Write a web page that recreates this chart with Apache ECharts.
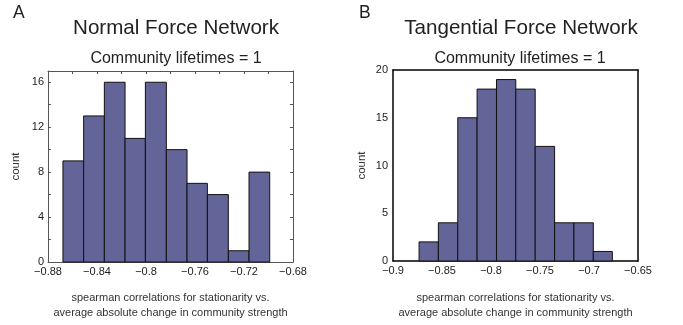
<!DOCTYPE html>
<html>

<head>
	<meta charset="UTF-8">
	<title></title>
	<style>
		html, body {
			margin: 0;
			padding: 0;
			background: #fff;
		}

		#chart {
			width: 683px;
			height: 325px;
		}
	</style>
	<script src="https://cdn.jsdelivr.net/npm/echarts@6/dist/echarts.min.js"></script>
</head>

<body>
	<div id="chart"></div>
	<script>
		// bin edges + counts
		var normalEdges = [-0.8678, -0.8509, -0.8340, -0.8171, -0.8005, -0.7834, -0.7665, -0.7499, -0.7328, -0.7159, -0.6990];
		var normalCounts = [9, 13, 16, 11, 16, 10, 7, 6, 1, 8];

		var tangEdges = [-0.8734, -0.8537, -0.8339, -0.8142, -0.7944, -0.7747, -0.7549, -0.7351, -0.7154, -0.6956, -0.6762];
		var tangCounts = [2, 4, 15, 18, 19, 18, 12, 4, 4, 1];

		var xName = 'spearman correlations for stationarity vs.\naverage absolute change in community strength';
		var barColor = '#636599';
		var font = 'Liberation Sans, Arial, sans-serif';

		function bins(edges, counts) {
			var out = [];
			for (var i = 0; i < counts.length; i++) {
				out.push([edges[i], edges[i + 1], counts[i]]);
			}
			return out;
		}

		function minus(s) {
			return String(s).replace('-', '\u2212');
		}

		function renderBin(params, api) {
			var p0 = api.coord([api.value(0), api.value(2)]);
			var p1 = api.coord([api.value(1), 0]);
			return {
				type: 'rect',
				shape: { x: p0[0], y: p0[1], width: p1[0] - p0[0], height: p1[1] - p0[1] },
				style: { fill: barColor, stroke: '#111', lineWidth: 1 }
			};
		}

		var labelStyle = { color: '#222', fontSize: 11, fontFamily: font };
		var leftLine = { show: true, onZero: false, lineStyle: { color: '#555', width: 1 } };
		var rightLine = { show: true, onZero: false, lineStyle: { color: '#000', width: 1.5 } };
		var leftTick = { show: true, inside: true, length: 3, lineStyle: { color: '#555' } };
		var titleStyle = function (size) {
			return { fontSize: size, fontWeight: 'normal', color: '#222', fontFamily: font };
		};

		var mychart = echarts.init(document.getElementById('chart'));
		mychart.setOption({
			animation: false,
			title: [
				{ text: 'A', left: 8, top: -1, textStyle: titleStyle(17.5) },
				{ text: 'B', left: 354, top: -1, textStyle: titleStyle(17.5) },
				{ text: 'Normal Force Network', left: 171, top: 13, textAlign: 'center', textStyle: titleStyle(20.6) },
				{ text: 'Tangential Force Network', left: 516, top: 13, textAlign: 'center', textStyle: titleStyle(20.6) },
				{ text: 'Community lifetimes = 1', left: 171, top: 46, textAlign: 'center', textStyle: titleStyle(16) },
				{ text: 'Community lifetimes = 1', left: 515, top: 46, textAlign: 'center', textStyle: titleStyle(16) }
			],
			grid: [
				{ left: 48, top: 71, width: 245, height: 193 },
				{ left: 393, top: 70, width: 245, height: 193 }
			],
			xAxis: [
				{
					gridIndex: 0, type: 'value', min: -0.88, max: -0.68, interval: 0.02, position: 'bottom',
					axisLine: leftLine, axisTick: leftTick,
					splitLine: { show: false },
					axisLabel: Object.assign({}, labelStyle, {
						margin: 4,
						formatter: function (v) {
							var k = Math.round(v * 100);
							return k % 4 === 0 ? minus(v) : '';
						}
					}),
					name: xName, nameLocation: 'middle', nameGap: 28,
					nameTextStyle: { fontSize: 11, color: '#333', lineHeight: 15, fontFamily: font }
				},
				{
					gridIndex: 0, type: 'value', min: -0.88, max: -0.68, interval: 0.02, position: 'top',
					axisLine: leftLine, axisTick: leftTick,
					splitLine: { show: false }, axisLabel: { show: false }
				},
				{
					gridIndex: 1, type: 'value', min: -0.9, max: -0.65, interval: 0.05, position: 'bottom',
					axisLine: rightLine, axisTick: { show: false },
					splitLine: { show: false },
					axisLabel: Object.assign({}, labelStyle, {
						margin: 4,
						formatter: function (v) { return minus(v); }
					}),
					name: xName, nameLocation: 'middle', nameGap: 29,
					nameTextStyle: { fontSize: 11, color: '#333', lineHeight: 15, fontFamily: font }
				},
				{
					gridIndex: 1, type: 'value', min: -0.9, max: -0.65, position: 'top',
					axisLine: rightLine, axisTick: { show: false },
					splitLine: { show: false }, axisLabel: { show: false }
				}
			],
			yAxis: [
				{
					gridIndex: 0, type: 'value', min: 0, max: 17, interval: 2, position: 'left',
					axisLine: leftLine, axisTick: leftTick,
					splitLine: { show: false },
					axisLabel: Object.assign({}, labelStyle, {
						margin: 4,
						formatter: function (v) { return v % 4 === 0 ? String(v) : ''; }
					}),
					name: 'count', nameLocation: 'middle', nameGap: 26,
					nameTextStyle: { fontSize: 11.5, color: '#333', fontFamily: font }
				},
				{
					gridIndex: 0, type: 'value', min: 0, max: 17, interval: 2, position: 'right',
					axisLine: leftLine, axisTick: leftTick,
					splitLine: { show: false }, axisLabel: { show: false }
				},
				{
					gridIndex: 1, type: 'value', min: 0, max: 20, interval: 5, position: 'left',
					axisLine: rightLine, axisTick: { show: false },
					splitLine: { show: false },
					axisLabel: Object.assign({}, labelStyle, { margin: 5 }),
					name: 'count', nameLocation: 'middle', nameGap: 25,
					nameTextStyle: { fontSize: 11.5, color: '#333', fontFamily: font }
				},
				{
					gridIndex: 1, type: 'value', min: 0, max: 20, position: 'right',
					axisLine: rightLine, axisTick: { show: false },
					splitLine: { show: false }, axisLabel: { show: false }
				}
			],
			series: [
				{
					type: 'custom', xAxisIndex: 0, yAxisIndex: 0,
					renderItem: renderBin,
					encode: { x: [0, 1], y: 2 },
					data: bins(normalEdges, normalCounts)
				},
				{
					type: 'custom', xAxisIndex: 2, yAxisIndex: 2,
					renderItem: renderBin,
					encode: { x: [0, 1], y: 2 },
					data: bins(tangEdges, tangCounts)
				}
			]
		});
	</script>
</body>

</html>
